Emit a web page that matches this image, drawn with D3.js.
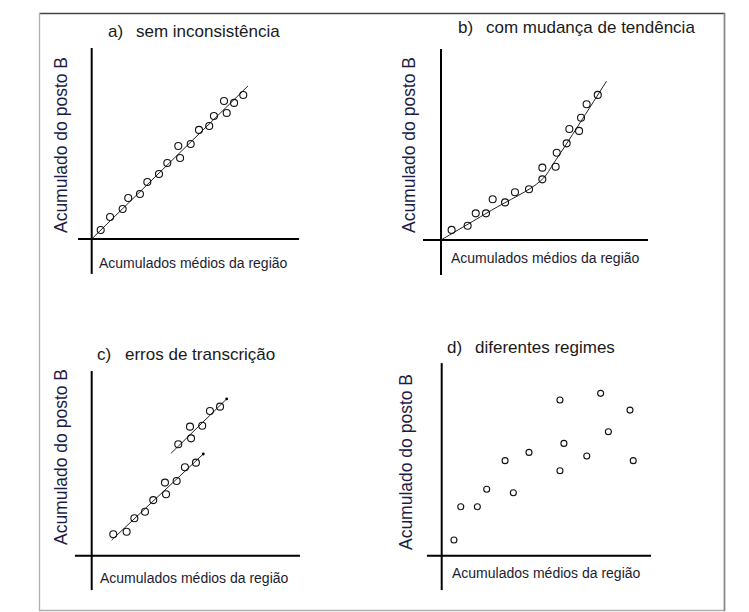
<!DOCTYPE html>
<html>
<head>
<meta charset="utf-8">
<script src="https://cdn.jsdelivr.net/npm/d3@7/dist/d3.min.js"></script>
<style>
  html, body { margin: 0; padding: 0; background: #fff; }
  svg { display: block; }
  text { font-family: "Liberation Sans", Arial, sans-serif; }
</style>
</head>
<body>
<svg id="chart" width="749" height="612"></svg>
<script>
// ---------- DATA (abstract units: 0..10 along each axis) ----------
const panelLetters = ["a)", "b)", "c)", "d)"];
const panelTitles = ["sem inconsistência", "com mudança de tendência", "erros de transcrição", "diferentes regimes"];
const yAxisLabel = "Acumulado do posto B";
const xAxisLabel = "Acumulados médios da região";

// a) sem inconsistência
const pointsA = [
  [0.50, 0.50], [1.02, 1.22], [1.72, 1.67], [2.03, 2.28], [2.68, 2.50], [3.09, 3.17],
  [3.74, 3.61], [4.20, 4.22], [4.81, 5.17], [4.91, 4.50], [5.50, 5.28], [5.96, 6.06],
  [6.53, 6.28], [6.79, 6.83], [7.35, 7.67], [7.50, 7.00], [7.91, 7.56], [8.42, 8.00]
];
const lineA = [[0, 0], [8.68, 8.50]];

// b) com mudança de tendência
const pointsB = [
  [0.59, 0.56], [1.48, 0.79], [1.93, 1.48], [2.50, 1.48], [2.87, 2.26], [3.56, 2.09],
  [4.11, 2.65], [4.89, 2.82], [5.63, 4.02], [5.63, 3.37], [6.37, 4.07], [6.43, 4.85],
  [6.98, 5.37], [7.13, 6.17], [7.67, 6.06], [7.78, 6.79], [8.09, 7.54], [8.71, 8.06]
];
const lineB = [[0, 0], [2.8, 1.65], [5.55, 3.30], [6.35, 4.40], [9.20, 8.83]];

// c) erros de transcrição
const pointsC1 = [
  [1.20, 1.19], [1.94, 1.33], [2.37, 2.08], [2.96, 2.44], [3.42, 3.09],
  [4.07, 4.06], [4.13, 3.41], [4.72, 4.15], [5.18, 4.91], [5.79, 5.17]
];
const lineC1 = [[1.11, 0.87], [6.20, 5.65]];
const pointsC2 = [
  [4.81, 6.19], [5.46, 7.17], [5.52, 6.52], [6.14, 7.22], [6.57, 8.04], [7.13, 8.28]
];
const lineC2 = [[4.41, 5.69], [7.50, 8.71]];

// d) diferentes regimes
const pointsD = [
  [0.68, 0.87], [1.06, 2.72], [1.98, 2.72], [2.50, 3.69], [3.52, 5.28], [3.98, 3.50],
  [4.85, 5.74], [6.57, 8.65], [6.79, 6.24], [6.57, 4.72], [8.06, 5.54], [8.83, 9.02],
  [9.26, 6.89], [10.46, 8.09], [10.64, 5.28]
];

// ---------- LAYOUT ----------
const panels = [
  { ox: 91.7, oy: 239, xAxis: [-0.76, 11.52], yAxis: [-1.94, 10.61],
    titleX: 108, titleY: 37, yLabX: 67, yLabY: 145, xLabX: 99, xLabY: 268,
    points: [pointsA], lines: [lineA], r: 3.5, curve: false, endDots: false },
  { ox: 441, oy: 240, xAxis: [-1.0, 11.5], yAxis: [-1.94, 10.61],
    titleX: 458, titleY: 33, yLabX: 415, yLabY: 145, xLabX: 451, xLabY: 263,
    points: [pointsB], lines: [lineB], r: 3.5, curve: true, endDots: false },
  { ox: 91.7, oy: 555.7, xAxis: [-0.93, 11.57], yAxis: [-1.91, 10.26],
    titleX: 97, titleY: 360, yLabX: 67, yLabY: 457, xLabX: 100, xLabY: 583,
    points: [pointsC1, pointsC2], lines: [lineC1, lineC2], r: 3.5, curve: false, endDots: true },
  { ox: 441.7, oy: 555.7, xAxis: [-0.82, 11.63], yAxis: [-1.91, 10.7],
    titleX: 447, titleY: 353, yLabX: 412, yLabY: 462, xLabX: 452, xLabY: 578,
    points: [pointsD], lines: [], r: 3.0, curve: false, endDots: false }
];
const unitPx = 18;

const svg = d3.select("#chart");

// outer frame
svg.append("line").attr("x1", 39).attr("y1", 13.5).attr("x2", 725).attr("y2", 13.5)
  .attr("stroke", "#444").attr("stroke-width", 1.6);
svg.append("line").attr("x1", 39.5).attr("y1", 13).attr("x2", 39.5).attr("y2", 611)
  .attr("stroke", "#b0b0b0").attr("stroke-width", 1.3);
svg.append("line").attr("x1", 39).attr("y1", 610.5).attr("x2", 725).attr("y2", 610.5)
  .attr("stroke", "#b0b0b0").attr("stroke-width", 1.3);
svg.append("line").attr("x1", 724.5).attr("y1", 13).attr("x2", 724.5).attr("y2", 611)
  .attr("stroke", "#888").attr("stroke-width", 1.8);

panels.forEach((p, i) => {
  const x = d3.scaleLinear().domain([0, 10]).range([p.ox, p.ox + 10 * unitPx]);
  const y = d3.scaleLinear().domain([0, 10]).range([p.oy, p.oy - 10 * unitPx]);
  const g = svg.append("g");

  // axes
  g.append("line").attr("x1", x(p.xAxis[0])).attr("x2", x(p.xAxis[1]))
    .attr("y1", y(0)).attr("y2", y(0)).attr("stroke", "#000").attr("stroke-width", 2);
  g.append("line").attr("x1", x(0)).attr("x2", x(0))
    .attr("y1", y(p.yAxis[0])).attr("y2", y(p.yAxis[1])).attr("stroke", "#000").attr("stroke-width", 2);

  // fit lines
  const lineGen = d3.line().x(d => x(d[0])).y(d => y(d[1]))
    .curve(p.curve ? d3.curveCatmullRom.alpha(0.5) : d3.curveLinear);
  p.lines.forEach(l => {
    g.append("path").attr("d", lineGen(l)).attr("fill", "none")
      .attr("stroke", "#222").attr("stroke-width", 1);
    if (p.endDots) {
      const e = l[l.length - 1];
      g.append("circle").attr("cx", x(e[0])).attr("cy", y(e[1])).attr("r", 1.4).attr("fill", "#000");
    }
  });

  // points
  p.points.forEach(pts => {
    g.selectAll(null).data(pts).enter().append("circle")
      .attr("cx", d => x(d[0])).attr("cy", d => y(d[1])).attr("r", p.r)
      .attr("fill", "none").attr("stroke", "#111").attr("stroke-width", 1.1);
  });

  // title
  const t = g.append("text").attr("x", p.titleX).attr("y", p.titleY)
    .attr("font-size", 17).attr("fill", "#1a1a1a");
  t.append("tspan").text(panelLetters[i]);
  t.append("tspan").attr("x", p.titleX + 28).text(panelTitles[i]);

  // y label
  g.append("text").attr("transform", `translate(${p.yLabX},${p.yLabY}) rotate(-90)`)
    .attr("text-anchor", "middle").attr("font-size", 17.5).attr("fill", "#1c1c44")
    .text(yAxisLabel);

  // x label
  g.append("text").attr("x", p.xLabX).attr("y", p.xLabY)
    .attr("font-size", 14).attr("fill", "#1c1c33")
    .text(xAxisLabel);
});
</script>
</body>
</html>
